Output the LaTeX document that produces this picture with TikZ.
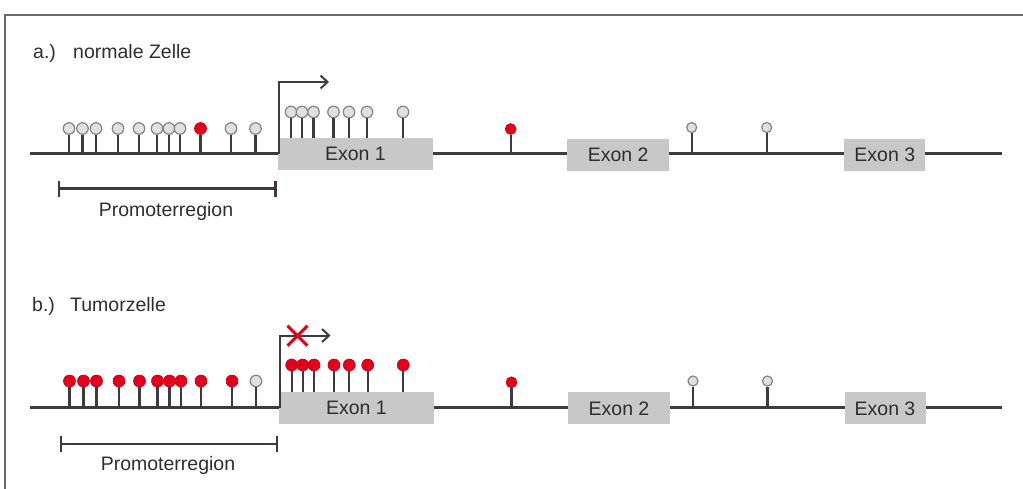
\documentclass[tikz,border=0pt]{standalone}
\usepackage{fontspec}
\setmainfont{Liberation Sans}
\usetikzlibrary{arrows.meta,shapes.misc}

\definecolor{ink}{HTML}{3C3C3C}
\definecolor{exongray}{HTML}{C8C8C8}
\definecolor{methred}{HTML}{E2001A}
\definecolor{unmethfill}{HTML}{E0E0E0}
\definecolor{unmethline}{HTML}{858585}
\definecolor{framegray}{HTML}{6A6A6A}
\definecolor{brackcol}{HTML}{45363A}
\definecolor{txt}{HTML}{2E2E2E}

\tikzset{
  lbl/.style={text=txt, font=\fontsize{19.5}{22}\selectfont, inner sep=0pt},
  dna/.style={draw=ink, line width=2.3pt},
  stem/.style={draw=ink, line width=2.2pt},
  exon/.style={lbl, fill=exongray, draw=none, minimum height=32pt},
  meth/.style={circle, fill=methred, draw=methred!85!black, line width=0.6pt,
               minimum size=12pt, inner sep=0pt},
  unm/.style={circle, fill=unmethfill, draw=unmethline, line width=1.2pt,
              minimum size=11.5pt, inner sep=0pt},
  unmsm/.style={unm, minimum size=10pt},
  methsm/.style={meth, minimum size=11pt},
  promobar/.style={draw=brackcol, line width=2.2pt,
                   {Bar[width=16pt,line width=2.2pt]}-{Bar[width=16pt,line width=2.2pt]}},
  tssarrow/.style={draw=ink, line width=2pt,
                   -{Straight Barb[length=7pt,width=13pt,line width=2pt]}},
  blocked/.style={cross out, draw=methred, line width=3pt,
                  minimum size=17pt, inner sep=0pt},
  framestyle/.style={draw=framegray, line width=2.2pt}
}

\begin{document}
\begin{tikzpicture}[x=1pt,y=-1pt]
\useasboundingbox (0,0) rectangle (1023,488);

% outer frame (top and left edges)
\coordinate (fr-bl) at (5,500);
\coordinate (fr-tl) at (5,15);
\coordinate (fr-tr) at (1040,15);
\draw[framestyle] (fr-bl) -- (fr-tl) -- (fr-tr);

% ================= a.) normal cell =================
\node[lbl, anchor=base west] (a-tag) at (33,58.3) {a.)};
\node[lbl, anchor=base west] (a-title) at (73,58.3) {normale Zelle};

\coordinate (a-l) at (30,153.5);
\coordinate (a-r) at (1002,153.5);
\draw[dna] (a-l) -- (a-r);

\node[exon, minimum width=154.4pt] (a-ex1) at (355.5,153.5) {Exon 1};
\node[exon, minimum width=101.7pt] (a-ex2) at (618.2,154.8) {Exon 2};
\node[exon, minimum width=81pt]    (a-ex3) at (884.8,154.8) {Exon 3};

% transcription start
\coordinate (a-tss0) at (278.5,153.5);
\coordinate (a-tss1) at (278.5,82);
\coordinate (a-tss2) at (329,82);
\draw[tssarrow] (a-tss0) -- (a-tss1) -- (a-tss2);

% CpG sites in the promoter
\foreach \x/\t [count=\i] in {69/unm,82.5/unm,96/unm,118/unm,139/unm,157/unm,
                              169/unm,180/unm,200.5/meth,231/unm,255.5/unm}{
  \coordinate (a-pb\i) at (\x,153.5);
  \node[\t] (a-p\i) at (\x,128.5) {};
  \draw[stem] (a-pb\i) -- (a-p\i.south);
}
% CpG sites on exon 1
\foreach \x [count=\i] in {291,302,313.5,333.5,349,367,403}{
  \coordinate (a-eb\i) at (\x,137.5);
  \node[unm] (a-e\i) at (\x,112) {};
  \draw[stem] (a-eb\i) -- (a-e\i.south);
}
% CpG sites further downstream
\coordinate (a-db1) at (510.7,153.5);
\node[methsm] (a-d1) at (510.7,129) {};
\draw[stem] (a-db1) -- (a-d1.south);
\foreach \x [count=\i from 2] in {691.7,766.7}{
  \coordinate (a-db\i) at (\x,153.5);
  \node[unmsm] (a-d\i) at (\x,127.5) {};
  \draw[stem] (a-db\i) -- (a-d\i.south);
}

% promoter region
\coordinate (a-pl) at (58,188.5);
\coordinate (a-pr) at (276.5,188.5);
\draw[promobar] (a-pl) -- (a-pr);
\node[lbl, anchor=base] (a-prom) at (166,216.7) {Promoterregion};

% ================= b.) tumour cell =================
\node[lbl, anchor=base west] (b-tag) at (32,311.7) {b.)};
\node[lbl, anchor=base west] (b-title) at (70,311.7) {Tumorzelle};

\coordinate (b-l) at (30,407.5);
\coordinate (b-r) at (1002,407.5);
\draw[dna] (b-l) -- (b-r);

\node[exon, minimum width=154.4pt] (b-ex1) at (356.5,407.5) {Exon 1};
\node[exon, minimum width=101.7pt] (b-ex2) at (619,408.3) {Exon 2};
\node[exon, minimum width=81pt]    (b-ex3) at (885,408.3) {Exon 3};

% blocked transcription start
\coordinate (b-tss0) at (280,407.5);
\coordinate (b-tss1) at (280,335.5);
\coordinate (b-tss2) at (330.5,335.5);
\draw[tssarrow] (b-tss0) -- (b-tss1) -- (b-tss2);
\node[blocked] (b-block) at (297.5,335.7) {};

% CpG sites in the promoter
\foreach \x/\t [count=\i] in {69.5/meth,83.5/meth,96.5/meth,119/meth,139.5/meth,157.5/meth,
                              169.5/meth,181/meth,201/meth,232/meth,256/unm}{
  \coordinate (b-pb\i) at (\x,407.5);
  \node[\t] (b-p\i) at (\x,381) {};
  \draw[stem] (b-pb\i) -- (b-p\i.south);
}
% CpG sites on exon 1
\foreach \x [count=\i] in {291.7,302.7,314,334,349.3,367.7,403.3}{
  \coordinate (b-eb\i) at (\x,391.5);
  \node[meth] (b-e\i) at (\x,365) {};
  \draw[stem] (b-eb\i) -- (b-e\i.south);
}
% CpG sites further downstream
\coordinate (b-db1) at (511.5,407.5);
\node[methsm] (b-d1) at (511.5,382.3) {};
\draw[stem] (b-db1) -- (b-d1.south);
\foreach \x [count=\i from 2] in {693,767.5}{
  \coordinate (b-db\i) at (\x,407.5);
  \node[unmsm] (b-d\i) at (\x,381) {};
  \draw[stem] (b-db\i) -- (b-d\i.south);
}

% promoter region
\coordinate (b-pl) at (60,444);
\coordinate (b-pr) at (278,444);
\draw[promobar] (b-pl) -- (b-pr);
\node[lbl, anchor=base] (b-prom) at (168,470.7) {Promoterregion};
\end{tikzpicture}
\end{document}
